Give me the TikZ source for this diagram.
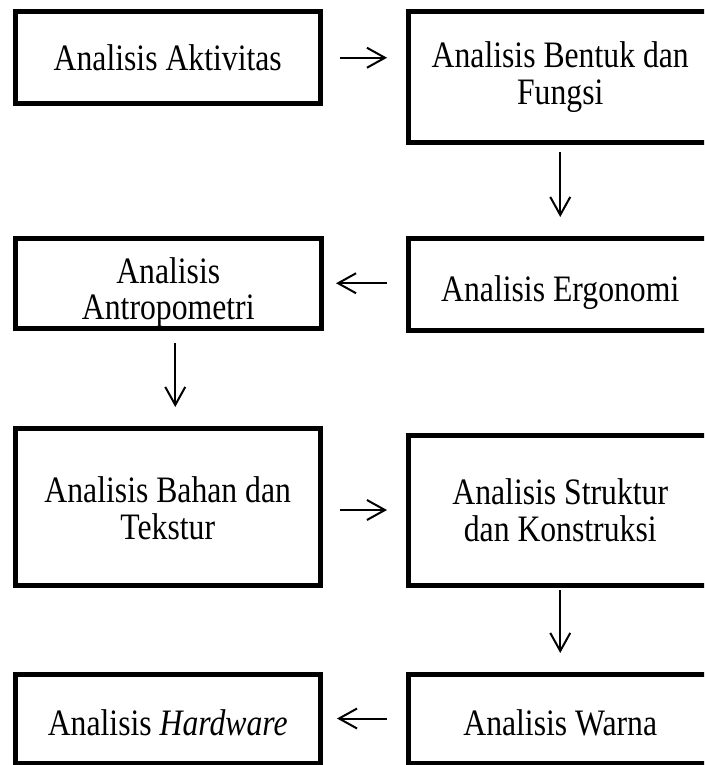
\documentclass[tikz,border=0pt]{standalone}
\usepackage{fontspec}
\setmainfont[FakeStretch=0.85]{Liberation Serif}
\usetikzlibrary{arrows.meta}
\newcommand{\lowtext}[2]{\raisebox{-#1}[\height][\depth]{\begin{tabular}{@{}c@{}}#2\end{tabular}}}
\begin{document}
\begin{tikzpicture}[x=1pt,y=-1pt,
  box/.style={draw=black,line width=5pt,rectangle,outer sep=0pt,inner sep=0pt,
              align=center,font=\fontsize{37.3}{36.5}\selectfont},
  arr/.style={line width=2pt,-{Straight Barb[length=18pt,width=20pt]}}]
\useasboundingbox (0,0) rectangle (704,765);
\fill[white] (0,0) rectangle (704,765);
\clip (0,0) rectangle (704,765);

\node[box,minimum width=304.5pt,minimum height=92.5pt] (A) at (167.75,57.75) {Analisis Aktivitas};
\node[box,minimum width=303.5pt,minimum height=131pt] (B) at (560.25,77) {Analisis Bentuk dan\\Fungsi};
\node[box,minimum width=303.5pt,minimum height=92pt] (C) at (560.25,284.5) {\lowtext{10pt}{Analisis Ergonomi}};
\node[box,minimum width=305.5pt,minimum height=89.5pt] (D) at (168.25,283.25) {\lowtext{11pt}{Analisis\\Antropometri}};
\node[box,minimum width=304.5pt,minimum height=157pt] (E) at (167.75,506.5) {\lowtext{7pt}{Analisis Bahan dan\\Tekstur}};
\node[box,minimum width=303.5pt,minimum height=150pt] (F) at (560.25,510) {Analisis Struktur\\dan Konstruksi};
\node[box,minimum width=303.5pt,minimum height=89pt] (G) at (560.25,718.5) {\lowtext{10pt}{Analisis Warna}};
\node[box,minimum width=304.5pt,minimum height=89pt] (H) at (167.75,718.5) {\lowtext{10pt}{Analisis \textit{Hardware}}};

\draw[arr,shorten <=20pt,shorten >=21.5pt] (A.east) -- (A.east -| B.west);
\draw[arr,shorten <=9.5pt,shorten >=21.5pt] (B.south) -- (B.south |- C.north);
\draw[arr,shorten <=21.5pt,shorten >=15pt] (D.east -| C.west) -- (D.east);
\draw[arr,shorten <=15pt,shorten >=21pt] ([xshift=7pt]D.south) -- ([xshift=7pt]D.south |- E.north);
\draw[arr,shorten <=20pt,shorten >=21.5pt] (E.east |- F.west) -- (F.west);
\draw[arr,shorten <=5pt,shorten >=21pt] (F.south) -- (G.north);
\draw[arr,shorten <=21.5pt,shorten >=17pt] (G.west) -- (H.east);
\end{tikzpicture}
\end{document}
